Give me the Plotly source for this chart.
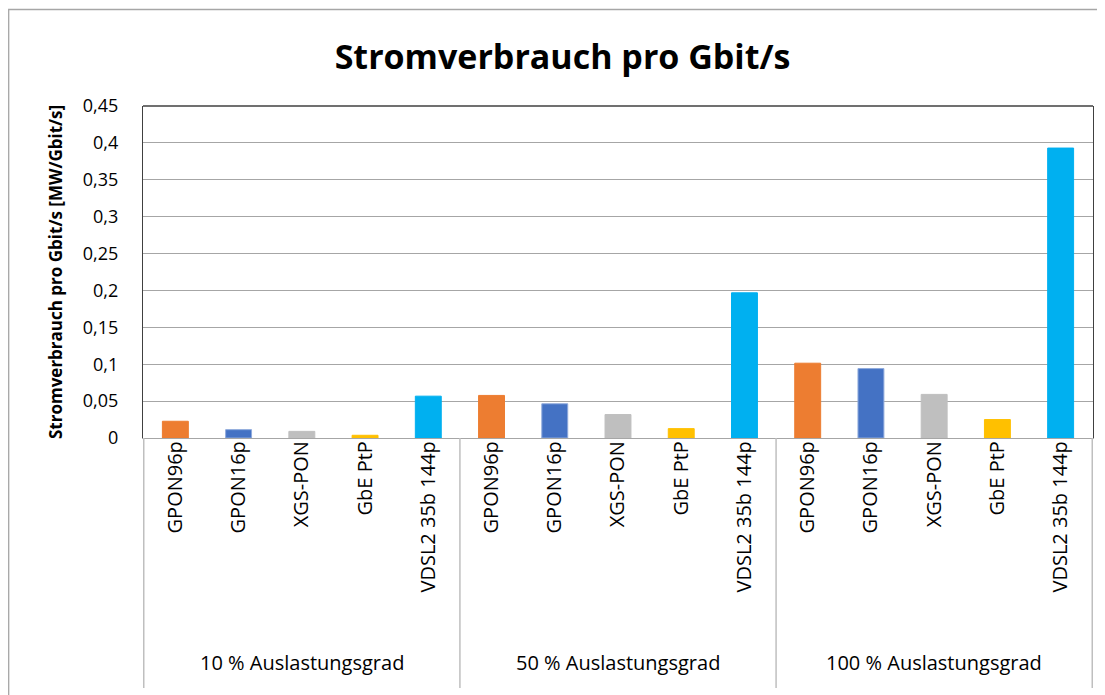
import plotly.graph_objects as go

groups = ["10 % Auslastungsgrad", "50 % Auslastungsgrad", "100 % Auslastungsgrad"]
technologies = ["GPON96p", "GPON16p", "XGS-PON", "GbE PtP", "VDSL2 35b 144p"]
values_10 = [0.0227, 0.0113, 0.0090, 0.0037, 0.0567]
values_50 = [0.0577, 0.0464, 0.0318, 0.0127, 0.1968]
values_100 = [0.1014, 0.0941, 0.0591, 0.0250, 0.3930]
tech_colors = ["#ED7D31", "#4472C4", "#BFBFBF", "#FFC000", "#00B0F0"]
tech_edges = ["#ED7D31", "#8FAADC", "#BFBFBF", "#FFC000", "#00B0F0"]
y_ticks = [0, 0.05, 0.1, 0.15, 0.2, 0.25, 0.3, 0.35, 0.4, 0.45]

FONT = "Open Sans, Calibri, Carlito, sans-serif"

keys, labels, yv, cols, edges = [], [], [], [], []
for g, vals in zip(groups, [values_10, values_50, values_100]):
    for t, v, c, e in zip(technologies, vals, tech_colors, tech_edges):
        keys.append(g + "|" + t)
        labels.append(t)
        yv.append(v)
        cols.append(c)
        edges.append(e)

fig = go.Figure(go.Bar(
    x=keys, y=yv,
    marker=dict(color=cols, line=dict(width=1, color=edges)),
    hoverinfo="skip",
))

# plot area: x 143..1093, y 106..438 in window (page offset 8px)
PH = 332
fig.update_layout(
    width=1097, height=687,
    margin=dict(l=135, r=12, t=98, b=257),
    paper_bgcolor="white", plot_bgcolor="white",
    separators=",.",
    bargap=0.59,
    showlegend=False,
    title=dict(text="<b>Stromverbrauch pro Gbit/s</b>", x=0.5055, xanchor="center",
               y=0.929, yanchor="middle", font=dict(family=FONT, size=34, color="black")),
    font=dict(family=FONT, color="black"),
)
fig.update_yaxes(
    range=[0, 0.45], tickvals=y_ticks, ticks="", showgrid=True,
    gridcolor="#A6A6A6", gridwidth=1.3, zeroline=False,
    showline=True, linecolor="#404040", linewidth=1.3, mirror=True,
    tickfont=dict(size=18, family=FONT, color="black"),
    ticklabelstandoff=20,
)
fig.update_xaxes(
    type="category", categoryorder="array", categoryarray=keys,
    tickvals=keys, ticktext=labels,
    tickangle=-90, ticks="",
    tickfont=dict(size=20, family=FONT, color="black"),
    ticklabelstandoff=-6,
    showline=True, linecolor="#A6A6A6", linewidth=1.3,
)
# plot area top border
fig.add_shape(type="line", xref="paper", yref="paper", x0=0, x1=1, y0=1, y1=1,
              line=dict(color="#404040", width=1.3))
# y-axis title
fig.add_annotation(text="<b>Stromverbrauch pro Gbit/s [MW/Gbit/s]</b>",
                   xref="paper", yref="paper", x=(55 - 143) / 950, y=0.5,
                   textangle=-90, showarrow=False, xanchor="center", yanchor="middle",
                   font=dict(size=17, family=FONT, color="black"))
# group labels and dividers
n = len(technologies)
for gi, g in enumerate(groups):
    fig.add_annotation(text=g, xref="x", yref="paper", x=keys[gi * n + n // 2],
                       y=(438 - 662) / PH, showarrow=False, xanchor="center", yanchor="middle",
                       font=dict(size=20, family=FONT, color="black"))
for gi in range(len(groups) + 1):
    fig.add_shape(type="line", xref="x", yref="paper",
                  x0=gi * n - 0.5, x1=gi * n - 0.5, y0=0, y1=(438 - 688) / PH,
                  line=dict(color="#BFBFBF", width=1.5))
# chart area border (top & left visible)
fig.add_shape(type="rect", xref="paper", yref="paper",
              x0=(8.7 - 143) / 950, x1=1.2, y0=-1.0, y1=(438 - 9.5) / PH,
              line=dict(color="#A6A6A6", width=1.3), layer="below")
fig.write_html("out.html")
